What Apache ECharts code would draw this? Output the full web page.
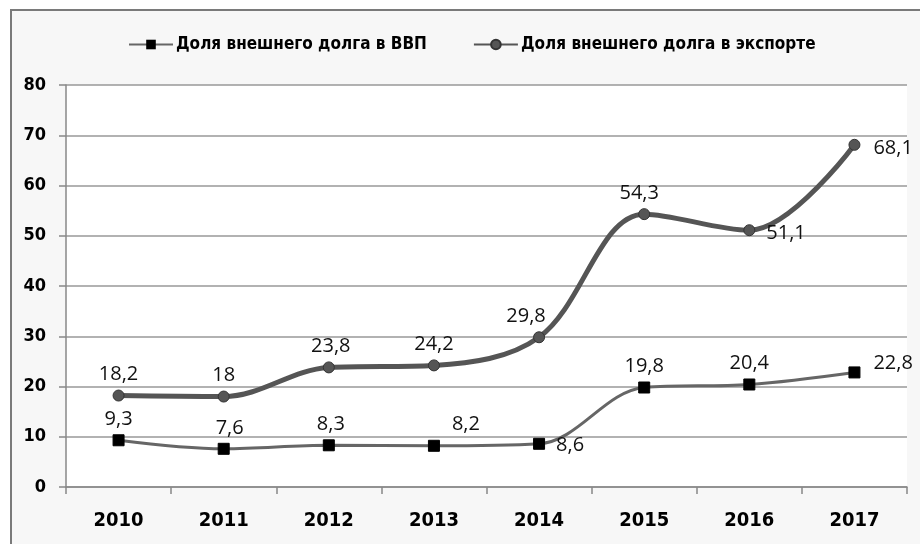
<!DOCTYPE html>
<html><head><meta charset="utf-8">
<script src="https://cdn.jsdelivr.net/npm/echarts@6/dist/echarts.min.js"></script>
<style>html,body{margin:0;padding:0;background:#fff}#c{width:920px;height:544px}</style>
</head><body><div id="c"></div>
<script>
var categories = ['2010','2011','2012','2013','2014','2015','2016','2017'];
var gdpShare = [9.3, 7.6, 8.3, 8.2, 8.6, 19.8, 20.4, 22.8];
var exportShare = [18.2, 18, 23.8, 24.2, 29.8, 54.3, 51.1, 68.1];
var yTicks = [0, 10, 20, 30, 40, 50, 60, 70, 80];
var seriesNames = ['Доля внешнего долга в ВВП', 'Доля внешнего долга в экспорте'];

var gdpLabelPos = [['top',[0,0]],['top',[6,0]],['top',[2,0]],['top',[32,0]],['right',[6,2]],['top',[0,0]],['top',[0,0]],['right',[8,-9]]];
var expLabelPos = [['top',[0,0]],['top',[0,0]],['top',[2,0]],['top',[0,0]],['top',[-13,0]],['top',[-5,0]],['right',[6,3]],['right',[8,3]]];

function fmt(v){ return String(v).replace('.', ','); }
function build(vals, pos){
  return vals.map(function(v,i){
    return {value:v, label:{position:pos[i][0], offset:pos[i][1]}};
  });
}
var labelFont = {show:true, color:'#111', fontFamily:'Open Sans', fontSize:20, distance:5,
  formatter:function(p){return fmt(p.value);}};
var condensed = 'DejaVu Sans Condensed, sans-serif';

var chart = echarts.init(document.getElementById('c'), null, {renderer:'canvas'});
chart.setOption({
  backgroundColor:'#fff',
  animation:false,
  graphic:[{type:'rect', shape:{x:11, y:10, width:920, height:560},
    style:{fill:'#f7f7f7', stroke:'#7a7a7a', lineWidth:2}, z:-10, silent:true}],
  legend:{top:31, left:123, itemGap:46, itemWidth:44, itemHeight:12,
    textStyle:{fontFamily:condensed, fontSize:17, fontWeight:'bold', color:'#000', padding:[0,0,0,-2]},
    data:seriesNames},
  grid:{left:66, right:13, top:85, bottom:57, show:true, backgroundColor:'#fff', borderWidth:0},
  xAxis:{type:'category', data:categories, boundaryGap:true,
    axisLine:{lineStyle:{color:'#888', width:1.5}},
    axisTick:{show:true, length:7, lineStyle:{color:'#888', width:1.5}},
    axisLabel:{margin:24, color:'#000', fontWeight:'bold', fontSize:20, fontFamily:condensed}},
  yAxis:{type:'value', min:yTicks[0], max:yTicks[yTicks.length-1], interval:yTicks[1]-yTicks[0],
    axisLine:{show:true, lineStyle:{color:'#888', width:1.5}},
    axisTick:{show:true, length:7, lineStyle:{color:'#888', width:1.5}},
    splitLine:{lineStyle:{color:'#999', width:1.5}},
    axisLabel:{margin:20, color:'#000', fontWeight:'bold', fontSize:18, fontFamily:condensed}},
  series:[
    {name:seriesNames[0], type:'line', smooth:0.35, data:build(gdpShare, gdpLabelPos),
      symbol:'rect', symbolSize:11,
      lineStyle:{color:'#666', width:3},
      itemStyle:{color:'#000', borderColor:'#000'},
      label:labelFont, z:3},
    {name:seriesNames[1], type:'line', smooth:0.35, data:build(exportShare, expLabelPos),
      symbol:'circle', symbolSize:11,
      lineStyle:{color:'#555', width:5},
      itemStyle:{color:'#555', borderColor:'#333', borderWidth:1},
      label:labelFont, z:4}
  ]
});
</script></body></html>
